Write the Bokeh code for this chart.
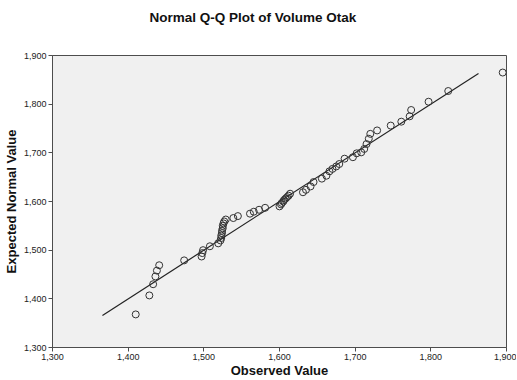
from bokeh.plotting import figure
from bokeh.models import Range1d, FixedTicker, NumeralTickFormatter, Title
from bokeh.embed import file_html
from bokeh.resources import INLINE

# Observed values (x) and expected normal values (y)
observed = [1410, 1428, 1433, 1436, 1438, 1441, 1474, 1497, 1498, 1499, 1508, 1519,
            1522, 1523, 1523, 1524, 1524, 1525, 1525, 1526, 1527, 1529, 1539, 1545,
            1561, 1566, 1573, 1581, 1600, 1602, 1603, 1605, 1606, 1608, 1610, 1612, 1614,
            1631, 1635, 1641, 1645, 1656, 1662, 1666, 1670, 1675, 1679, 1686, 1697, 1702,
            1708, 1712, 1715, 1718, 1720, 1729, 1747, 1761, 1772, 1774, 1797, 1823, 1895]
expected = [1368, 1407, 1430, 1446, 1458, 1469, 1479, 1487, 1494, 1500, 1508, 1514,
            1520, 1525, 1530, 1535, 1540, 1545, 1550, 1555, 1559, 1563, 1566, 1570,
            1575, 1579, 1583, 1587, 1590, 1594, 1597, 1600, 1603, 1606, 1609, 1612, 1616,
            1619, 1624, 1631, 1640, 1647, 1653, 1662, 1667, 1672, 1677, 1688, 1691, 1699,
            1701, 1708, 1718, 1729, 1739, 1746, 1756, 1764, 1775, 1788, 1805, 1827, 1865]
ref_line_x = [1366, 1863]
ref_line_y = [1366, 1863]
ticks = [1300, 1400, 1500, 1600, 1700, 1800, 1900]
title_text = "Normal Q-Q Plot of Volume Otak"

p = figure(output_backend="svg", toolbar_location=None,
           frame_width=454, frame_height=292,
           min_border_left=45, min_border_right=10, min_border_top=55, min_border_bottom=33,
           x_range=Range1d(1300, 1900), y_range=Range1d(1300, 1900),
           title=title_text)

p.background_fill_color = "#f0f0f0"
p.border_fill_color = "white"
p.outline_line_color = "#4d4d4d"
p.outline_line_width = 1
p.grid.visible = False

# blank spacer panel between the frame and the title
p.add_layout(Title(text=" ", text_font_size="12px"), "above")

p.title.align = "left"
p.title.offset = 97
p.title.text_font = "Liberation Sans"
p.title.text_font_size = "13.5px"
p.title.text_font_style = "bold"
p.title.text_color = "#111111"

for ax in (p.xaxis[0], p.yaxis[0]):
    ax.ticker = FixedTicker(ticks=ticks)
    ax.formatter = NumeralTickFormatter(format="0,0")
    ax.major_tick_in = 0
    ax.major_tick_out = 4
    ax.minor_tick_line_color = None
    ax.axis_line_color = "#4d4d4d"
    ax.major_tick_line_color = "#4d4d4d"
    ax.major_label_text_font = "Liberation Sans"
    ax.major_label_text_font_size = "9px"
    ax.major_label_text_color = "#222222"
    ax.axis_label_text_font = "Liberation Sans"
    ax.axis_label_text_font_size = "13px"
    ax.axis_label_text_font_style = "bold"
    ax.axis_label_text_color = "#111111"
    ax.major_label_standoff = 2

p.xaxis.axis_label = "Observed Value"
p.yaxis.axis_label = "Expected Normal Value"
p.xaxis.axis_label_standoff = 0
p.yaxis.axis_label_standoff = 2

p.line(ref_line_x, ref_line_y, line_color="#222222", line_width=1.2)
p.scatter(observed, expected, marker="circle", size=7, fill_color=None,
          line_color="#333333", line_width=1)

open("out.html", "w").write(file_html(p, INLINE))
